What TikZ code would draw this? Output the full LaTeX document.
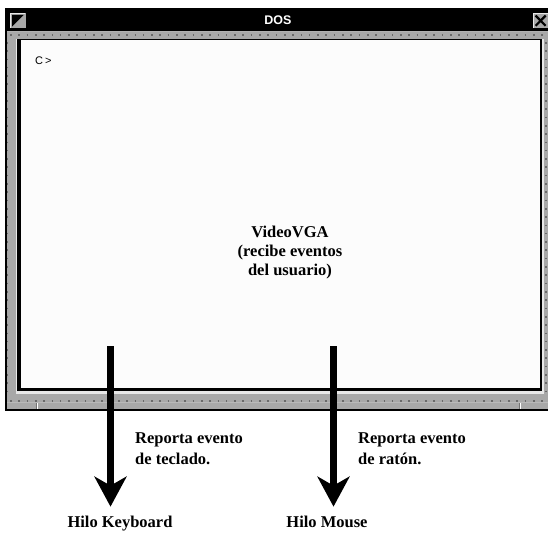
\documentclass[tikz,border=0pt]{standalone}
\usepackage{fontspec}
\setmainfont{Liberation Serif}
\setsansfont{Liberation Sans}
\usetikzlibrary{arrows.meta}
\definecolor{framegray}{HTML}{A8A8A8}
\definecolor{tickgray}{HTML}{6A6A6A}
\definecolor{hilite}{HTML}{E8E8E8}
\definecolor{screenwhite}{HTML}{FCFCFC}

\begin{document}
\begin{tikzpicture}[x=1pt,y=-1pt,
  txt/.style={font=\fontsize{16.5}{21.5}\selectfont\bfseries, inner sep=0pt},
  flow/.style={line width=7pt, -{Stealth[length=30pt,width=32pt,inset=9pt]}},
  ticks/.style={tickgray, line width=1.6pt, dash pattern=on 1.6pt off 6.7pt},
]
\useasboundingbox (0,0) rectangle (548,534);

% ---- DOS window ----
\begin{scope}
  \clip (0,0) rectangle (548,534);
  % frame body
  \fill[framegray] (6,9) rectangle (552,410);
  % title bar
  \fill[black] (6,9) rectangle (552,31);
  \draw[color=gray!60, line width=1pt] (6,32) -- (552,32);
  % ruler ticks around the frame
  \draw[ticks] (10,35) -- (548,35);
  \draw[ticks] (7.6,42) -- (7.6,398);
  \draw[ticks] (546.2,42) -- (546.2,398);
  \draw[ticks] (10,400.8) -- (548,400.8);
  % bottom status strip
  \draw[color=gray!55, line width=0.8pt] (6,402.6) -- (552,402.6);
  \draw[color=black!55, line width=0.8pt] (36.8,403) -- (36.8,410);
  \draw[white, line width=0.9pt] (37.8,403) -- (37.8,410);
  \draw[color=black!55, line width=0.8pt] (519.6,403) -- (519.6,410);
  \draw[white, line width=0.9pt] (520.6,403) -- (520.6,410);
  % outer border
  \draw[line width=1.3pt] (6,9) rectangle (552,410);
  % sunken screen area
  \fill[hilite] (15.8,39) rectangle (544,393.6);
  \fill[black] (17.3,39.5) rectangle (542.4,391.4);
  \fill[screenwhite] (20.6,40) rectangle (540,388.2);
  % window menu icon
  \fill[framegray] (10,13) rectangle (25.5,28.5);
  \draw[hilite, line width=0.7pt] (10.4,28.1) -- (10.4,13.4) -- (25.1,13.4);
  \fill[black] (12,15) -- (23.6,15) -- (12,26.6) -- cycle;
  % close box
  \fill[framegray] (533,13) rectangle (548,28.5);
  \draw[hilite, line width=0.7pt] (533.4,28.1) -- (533.4,13.4) -- (548,13.4);
  \draw[line width=2.2pt] (535.6,15.6) -- (545.6,25.8) (545.6,15.6) -- (535.6,25.8);
\end{scope}

% title and prompt
\node (title) [white, font=\sffamily\bfseries\fontsize{12.5}{14}\selectfont, inner sep=0pt] at (278,20.5) {DOS};
\node (prompt) [anchor=base west, font=\sffamily\fontsize{11}{13}\selectfont, inner sep=0pt] at (35,64.5) {C\kern2pt>};

% screen caption
\node (vga) [txt, align=center, font=\fontsize{16.5}{19}\selectfont\bfseries] at (290,253) {VideoVGA\\(recibe eventos\\del usuario)};

% event notes
\node (kbnote) [txt, align=left, anchor=north west] at (135,432) {Reporta evento\\de teclado.};
\node (msnote) [txt, align=left, anchor=north west] at (358,432) {Reporta evento\\de ratón.};

% threads
\node (kb) [txt, anchor=base] at (120,527) {Hilo Keyboard};
\node (ms) [txt, anchor=base] at (327,527) {Hilo Mouse};

% event arrows
\coordinate (kbsrc) at (110.5,346);
\coordinate (mssrc) at (333.5,346);
\draw[flow, shorten >=8.7pt] (kbsrc) -- (kbsrc |- kb.north);
\draw[flow, shorten >=8.7pt] (mssrc) -- (mssrc |- ms.north);
\end{tikzpicture}
\end{document}
